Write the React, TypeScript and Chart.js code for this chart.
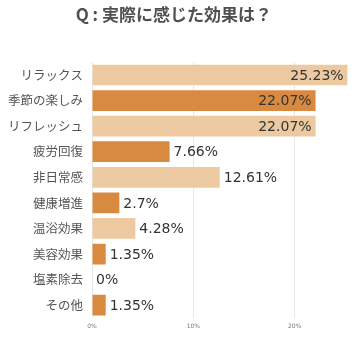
import React, { useEffect, useRef } from "react";
import { Chart, registerables } from "chart.js";

Chart.register(...registerables);

const TITLE = "Q : 実際に感じた効果は？";
const categories = [
  "リラックス",
  "季節の楽しみ",
  "リフレッシュ",
  "疲労回復",
  "非日常感",
  "健康増進",
  "温浴効果",
  "美容効果",
  "塩素除去",
  "その他",
];
const values = [25.23, 22.07, 22.07, 7.66, 12.61, 2.7, 4.28, 1.35, 0, 1.35];
const xTicks = [0, 10, 20];

const LIGHT = "#ecc9a0";
const DARK = "#d88b40";
const barColors = categories.map((_, i) => (i % 2 === 0 ? LIGHT : DARK));

const labelPlugin = {
  id: "valueLabels",
  afterDatasetsDraw(chart: any) {
    const ctx = chart.ctx;
    const meta = chart.getDatasetMeta(0);
    ctx.save();
    ctx.font = "14px 'DejaVu Sans'";
    ctx.fillStyle = "#333";
    ctx.textBaseline = "middle";
    meta.data.forEach((el: any, i: number) => {
      const v = values[i];
      const text = v + "%";
      if (v > 20) {
        ctx.textAlign = "right";
        ctx.fillText(text, el.x - 4, el.y + 1);
      } else {
        ctx.textAlign = "left";
        ctx.fillText(text, el.x + 4, el.y + 1);
      }
    });
    ctx.restore();
  },
};

export default function App() {
  const ref = useRef<HTMLCanvasElement>(null);
  useEffect(() => {
    const chart = new Chart(ref.current!, {
      type: "bar",
      data: {
        labels: categories,
        datasets: [
          {
            data: values,
            backgroundColor: barColors,
            borderWidth: 0,
            barPercentage: 0.9,
            categoryPercentage: 0.9,
          },
        ],
      },
      options: {
        indexAxis: "y",
        animation: false,
        responsive: true,
        maintainAspectRatio: false,
        layout: { padding: { left: 0, right: 9.4, top: 0, bottom: 18.4 } },
        plugins: {
          legend: { display: false },
          tooltip: { enabled: false },
          title: {
            display: true,
            text: TITLE,
            color: "#505050",
            font: { size: 17, weight: "bold", family: "'Noto Sans CJK JP'" },
            padding: { top: 4.8, bottom: 37 },
          },
        },
        scales: {
          x: {
            min: 0,
            max: 25.23,
            afterBuildTicks(scale: any) {
              scale.ticks = xTicks.map((v) => ({ value: v }));
            },
            ticks: {
              includeBounds: false,
              stepSize: 10,
              color: "#777",
              font: { size: 6, family: "'DejaVu Sans'" },
              padding: 4.7,
              maxRotation: 0,
              callback: (v: any) => v + "%",
            },
            grid: { color: "#e6e6e6", drawTicks: false },
            border: { display: false },
          },
          y: {
            afterFit(scale: any) {
              scale.width = 92;
            },
            ticks: {
              color: "#555",
              font: { size: 12.5, family: "'Noto Sans CJK JP'" },
              padding: 9,
            },
            grid: { display: false, drawTicks: false },
            border: { display: false },
          },
        },
      },
      plugins: [labelPlugin],
    });
    return () => chart.destroy();
  }, []);
  return (
    <div style={{ position: "absolute", left: 0, top: 0, width: 357, height: 353 }}>
      <canvas ref={ref} />
    </div>
  );
}
